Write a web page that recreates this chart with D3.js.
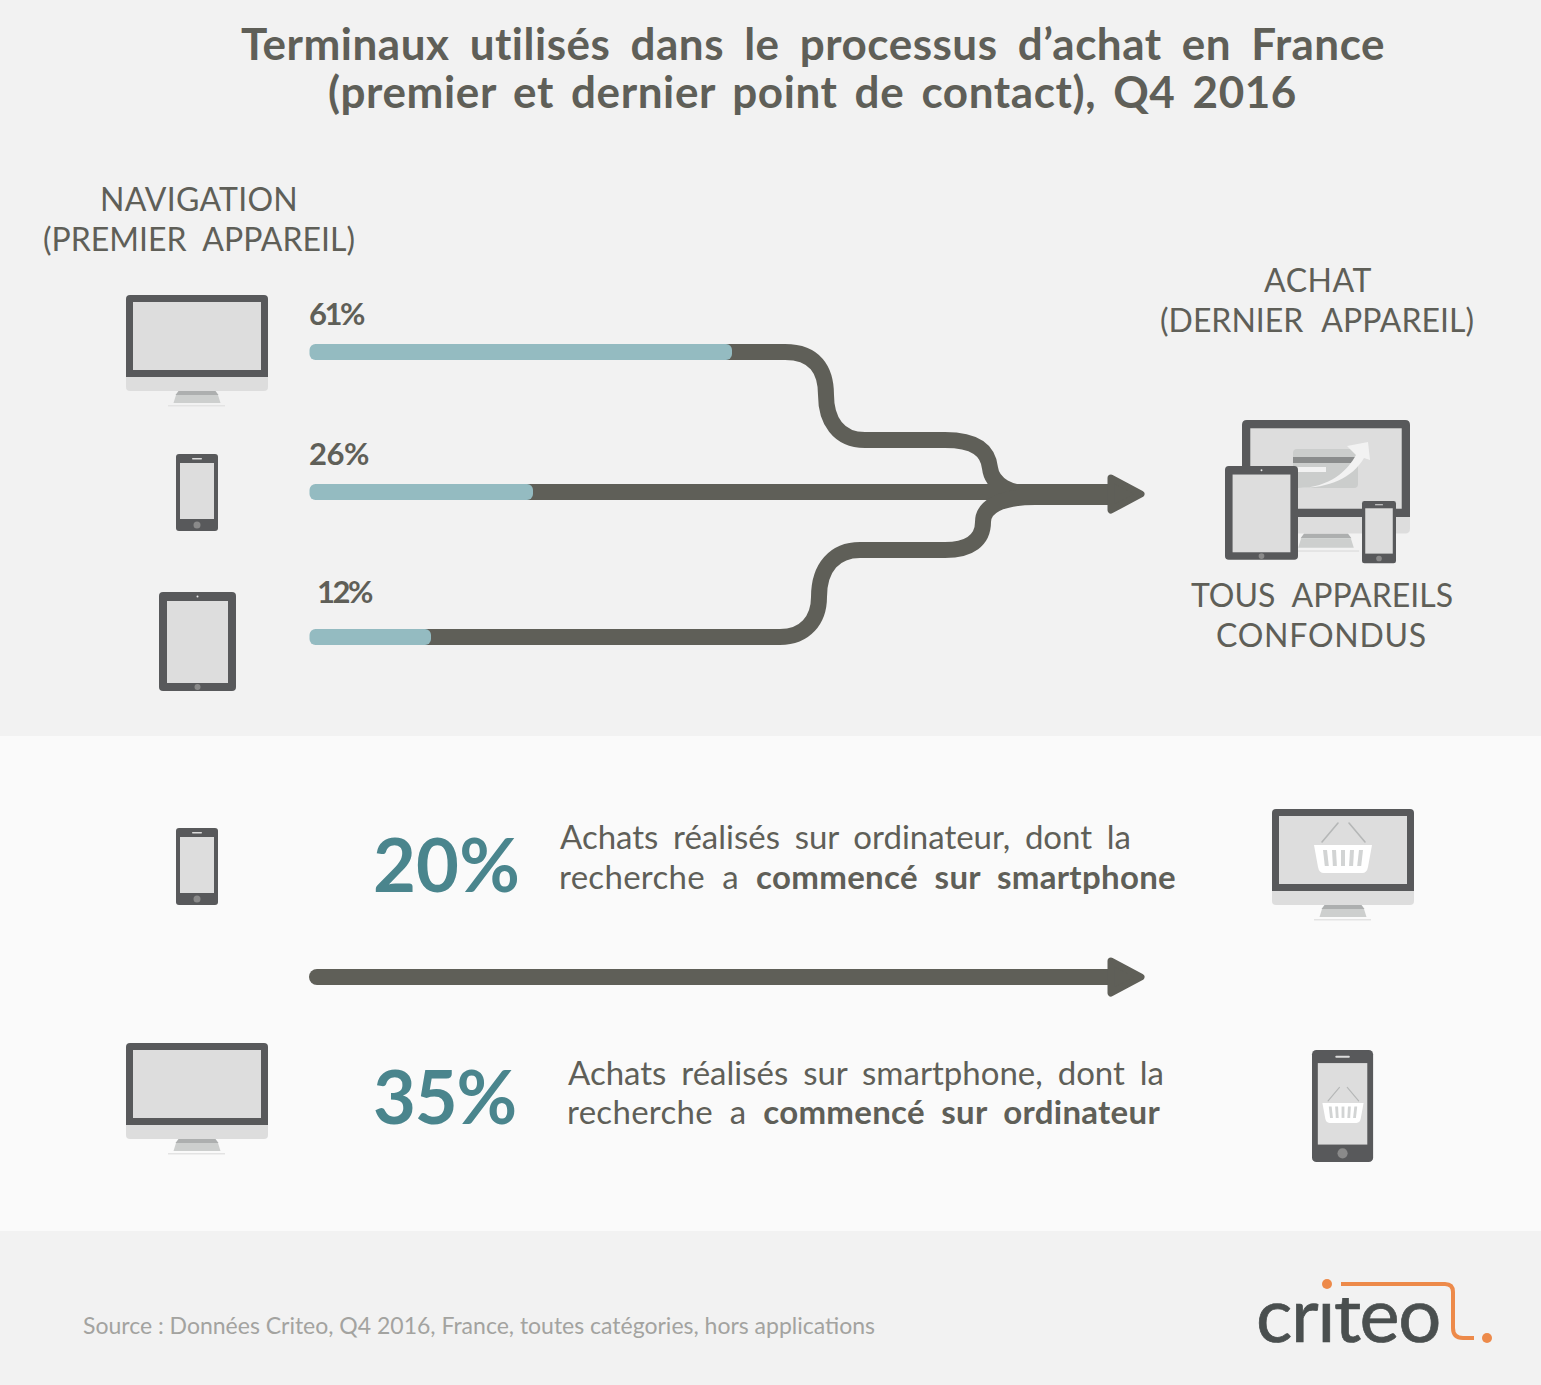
<!DOCTYPE html>
<html lang="fr">
<head>
<meta charset="utf-8">
<script src="https://cdn.jsdelivr.net/npm/d3@7"></script>
<style>
body { margin: 0; background: #f2f2f2; }
svg { display: block; }
text { font-family: Lato, "Open Sans", sans-serif; fill: #5f5f58; }
</style>
</head>
<body>
<svg id="chart" width="1541" height="1385"></svg>
<script>
// Données
const devices = ['ordinateur', 'smartphone', 'tablette'];
const firstDeviceShares = [61, 26, 12];
const crossDeviceShares = [20, 35];
const titleLines = ['Terminaux utilisés dans le processus d’achat en France', '(premier et dernier point de contact), Q4 2016'];

const dark = '#5f5f58', icon = '#58595b', screen = '#dddddd', teal = '#94bbc1';

const svg = d3.select('#chart');

// Échelles : les barres de la référence ne sont pas strictement proportionnelles
const xShare = d3.scaleLinear().domain([0, 12, 26, 61]).range([309.5, 431, 533, 732]);
const yRow = d3.scaleOrdinal().domain(devices).range([352, 492, 637]);

// Fonds
[[0, 736, '#f2f2f2'], [736, 495, '#fafafa'], [1231, 154, '#f2f2f2']].forEach(b => {
    svg.append('rect').attr('x', 0).attr('y', b[0]).attr('width', 1541).attr('height', b[1]).attr('fill', b[2]);
});

// Texte ajusté à une largeur donnée (via word-spacing)
function fitText(parts, x, y, width, size, opts = {}) {
    const t = svg.append('text').attr('x', x).attr('y', y).style('font-size', size + 'px')
        .style('font-weight', opts.weight || 400);
    if (opts.fill) t.style('fill', opts.fill);
    if (opts.spacing) t.style('letter-spacing', opts.spacing + 'px');
    parts.forEach(p => {
        t.append('tspan').style('font-weight', p.weight || opts.weight || 400).text(p.text);
    });
    const full = parts.map(p => p.text).join('');
    const spaces = (full.match(/ /g) || []).length;
    const len = t.node().getComputedTextLength();
    if (spaces > 0) t.style('word-spacing', ((width - len) / spaces) + 'px');
    else t.style('letter-spacing', ((opts.spacing || 0) + (width - len) / full.length) + 'px');
    return t;
}

// Titre
fitText([{ text: titleLines[0] }], 241, 60, 1144, 44, { weight: 700, spacing: 0.5 });
fitText([{ text: titleLines[1] }], 328, 108, 969, 44, { weight: 700, spacing: 0.6 });

// En-têtes
fitText([{ text: 'NAVIGATION' }], 100, 211, 198, 32);
fitText([{ text: '(PREMIER APPAREIL)' }], 43, 251, 312, 32);
fitText([{ text: 'ACHAT' }], 1264, 292, 108, 32);
fitText([{ text: '(DERNIER APPAREIL)' }], 1160, 332, 314, 32);
fitText([{ text: 'TOUS APPAREILS' }], 1191, 607, 262, 32);
fitText([{ text: 'CONFONDUS' }], 1216, 647, 211, 32);

// Flux vers l'achat
function flowPath(device, share) {
    const p = d3.path();
    const y = yRow(device);
    p.moveTo(xShare(share) - 10, y);
    if (device === devices[0]) {
        p.lineTo(785, y);
        p.bezierCurveTo(815, y, 826, 370, 826, 395);
        p.bezierCurveTo(826, 420, 838, 440, 865, 440);
        p.lineTo(945, 440);
        p.bezierCurveTo(975, 440, 988, 450, 990, 468);
        p.bezierCurveTo(992, 485, 1010, 494, 1035, 494);
    } else if (device === devices[1]) {
        p.lineTo(1108, y);
    } else {
        p.lineTo(780, y);
        p.bezierCurveTo(805, y, 819, 620, 819, 597);
        p.bezierCurveTo(819, 567, 835, 550, 860, 550);
        p.lineTo(945, 550);
        p.bezierCurveTo(970, 550, 983, 540, 983, 522);
        p.bezierCurveTo(983, 507, 1000, 497, 1035, 497);
    }
    return p.toString();
}

devices.forEach((d, i) => {
    svg.append('path').attr('d', flowPath(d, firstDeviceShares[i]))
        .attr('fill', 'none').attr('stroke', dark).attr('stroke-width', 16);
});
svg.append('rect').attr('x', 1020).attr('y', 484).attr('width', 92).attr('height', 21).attr('fill', dark);

function arrowHead(xBase, yMid) {
    svg.append('path')
        .attr('d', `M${xBase},${yMid - 16}L${xBase + 30},${yMid}L${xBase},${yMid + 16}Z`)
        .attr('fill', dark).attr('stroke', dark).attr('stroke-width', 7).attr('stroke-linejoin', 'round');
}
arrowHead(1111, 494);

// Barres
devices.forEach((d, i) => {
    svg.append('rect').attr('x', xShare(0)).attr('y', yRow(d) - 8)
        .attr('width', xShare(firstDeviceShares[i]) - xShare(0)).attr('height', 16)
        .attr('rx', 6).attr('fill', teal);
});

// Étiquettes des barres
fitText([{ text: firstDeviceShares[0] + '%' }], 309, 325, 54, 31, { weight: 700 });
fitText([{ text: firstDeviceShares[1] + '%' }], 309, 465, 60, 31, { weight: 700 });
fitText([{ text: firstDeviceShares[2] + '%' }], 317, 603, 54, 31, { weight: 700 });

// Icônes
function iconGroup(x, y, k) {
    return svg.append('g').attr('transform', `translate(${x},${y}) scale(${k})`);
}

function drawMonitor(x, y, k) {
    const g = iconGroup(x, y, k);
    g.append('path').attr('d', 'M52.500,96H89.500L92.500,100H49.500Z').attr('fill', '#adafaf');
    g.append('path').attr('d', 'M50,100H92L94.500,108H47.500Z').attr('fill', '#cdcfce');
    g.append('rect').attr('x', 42).attr('y', 110).attr('width', 57).attr('height', 1.5).attr('fill', '#e3e3e3');
    g.append('path').attr('d', 'M0,82H142V92Q142,96 138,96H4Q0,96 0,92Z').attr('fill', screen);
    g.append('path').attr('d', 'M4,0H138Q142,0 142,4V82H0V4Q0,0 4,0Z').attr('fill', icon);
    g.append('rect').attr('x', 7).attr('y', 7).attr('width', 128).attr('height', 68).attr('fill', screen);
    return g;
}

function drawPhone(x, y, k) {
    const g = iconGroup(x, y, k);
    g.append('rect').attr('width', 42).attr('height', 77).attr('rx', 3).attr('fill', icon);
    g.append('rect').attr('x', 4).attr('y', 9).attr('width', 34).attr('height', 56).attr('fill', screen);
    g.append('rect').attr('x', 16).attr('y', 4).attr('width', 10).attr('height', 1.400).attr('rx', 0.7).attr('fill', '#dcdcdc');
    g.append('circle').attr('cx', 21).attr('cy', 71).attr('r', 3.5).attr('fill', '#8a8a8a');
    return g;
}

function drawTablet(x, y, k) {
    const g = iconGroup(x, y, k);
    g.append('rect').attr('width', 77).attr('height', 99).attr('rx', 4).attr('fill', icon);
    g.append('rect').attr('x', 8).attr('y', 9).attr('width', 61).attr('height', 82).attr('fill', screen);
    g.append('circle').attr('cx', 38.500).attr('cy', 4.500).attr('r', 1).attr('fill', '#e8e8e8');
    g.append('circle').attr('cx', 38.500).attr('cy', 95).attr('r', 3).attr('fill', '#8a8a8a');
    return g;
}

// Panier : origine au centre haut du panier
function drawBasket(x, y, k) {
    const g = iconGroup(x, y, k);
    g.append('path').attr('d', 'M-21,-3L-5,-22M6,-22L22,-3').attr('stroke', '#b5b7b7').attr('stroke-width', 1.6).attr('fill', 'none').attr('stroke-linecap', 'round');
    g.append('path').attr('d', 'M-29,0H29L25,22Q24,28 19,28H-19Q-24,28 -25,22Z').attr('fill', '#ffffff');
    [-18, -9, 0, 9, 18].forEach(s => {
        g.append('path').attr('d', `M${s - 2},5H${s + 2}L${s + 2 - s * 0.1},21H${s - 2 - s * 0.1}Z`).attr('fill', '#d2d4d4');
    });
    return g;
}

drawMonitor(126, 295, 1);
drawPhone(176, 454, 1);
drawTablet(159, 592, 1);
drawPhone(176, 828, 1);
drawMonitor(126, 1043, 1);

drawMonitor(1272, 809, 1);
drawBasket(1343, 845, 1);
drawPhone(1312, 1050, 1.455);
drawBasket(1343, 1103, 0.71);

// Groupe « tous appareils »
drawMonitor(1242, 420, 168 / 142);
svg.append('rect').attr('x', 1293).attr('y', 449).attr('width', 65).attr('height', 39).attr('rx', 4).attr('fill', '#cbcdcc');
svg.append('rect').attr('x', 1293).attr('y', 457).attr('width', 65).attr('height', 6).attr('fill', '#8a8c8c');
svg.append('rect').attr('x', 1293).attr('y', 467).attr('width', 33).attr('height', 5).attr('fill', '#f2f2f2');
svg.append('path').attr('d', 'M1298,488C1330,488 1348,470 1356,455L1347,446L1368,442L1370,460L1364,458C1352,478 1330,488 1298,488Z').attr('fill', '#f2f2f2');
drawTablet(1225, 466, 73 / 77);
drawPhone(1362, 501, 34 / 42);

// Partie basse
fitText([{ text: crossDeviceShares[0] + '%' }], 373, 892, 147, 74, { weight: 700, fill: '#4a858d' });
fitText([{ text: crossDeviceShares[1] + '%' }], 373, 1124, 143, 74, { weight: 700, fill: '#4a858d' });

fitText([{ text: 'Achats réalisés sur ordinateur, dont la' }], 560, 849, 571, 33);
fitText([{ text: 'recherche a ' }, { text: 'commencé sur smartphone', weight: 700 }], 559, 889, 617, 33, { spacing: 0.3 });
fitText([{ text: 'Achats réalisés sur smartphone, dont la' }], 568, 1085, 596, 33);
fitText([{ text: 'recherche a ' }, { text: 'commencé sur ordinateur', weight: 700 }], 567, 1124, 593, 33, { spacing: 0.3 });

// Flèche du bas
svg.append('line').attr('x1', 317).attr('x2', 1112).attr('y1', 977).attr('y2', 977)
    .attr('stroke', dark).attr('stroke-width', 16).attr('stroke-linecap', 'round');
arrowHead(1111, 977);

// Source
fitText([{ text: 'Source : Données Criteo, Q4 2016, France, toutes catégories, hors applications' }], 83, 1334, 792, 23, { fill: '#a3a3a0' });

// Logo
svg.append('clipPath').attr('id', 'logo-clip').append('rect').attr('x', 1250).attr('y', 1298).attr('width', 200).attr('height', 60);
const logo = svg.append('g').attr('clip-path', 'url(#logo-clip)');
const logoText = logo.append('text').attr('x', 1256).attr('y', 1342).style('font-size', '76px').style('fill', '#4a4f4f')
    .style('stroke', '#4a4f4f').style('stroke-width', 0.7).text('criteo');
logoText.style('letter-spacing', ((184 - logoText.node().getComputedTextLength()) / 6) + 'px');
svg.append('circle').attr('cx', 1327).attr('cy', 1284).attr('r', 5).attr('fill', '#ed8a4a');
svg.append('path').attr('d', 'M1341,1284H1445Q1453,1284 1453,1292V1328Q1453,1338 1463,1338H1474')
    .attr('fill', 'none').attr('stroke', '#ed8a4a').attr('stroke-width', 4);
svg.append('circle').attr('cx', 1487).attr('cy', 1338).attr('r', 5).attr('fill', '#ed8a4a');
</script>
</body>
</html>
